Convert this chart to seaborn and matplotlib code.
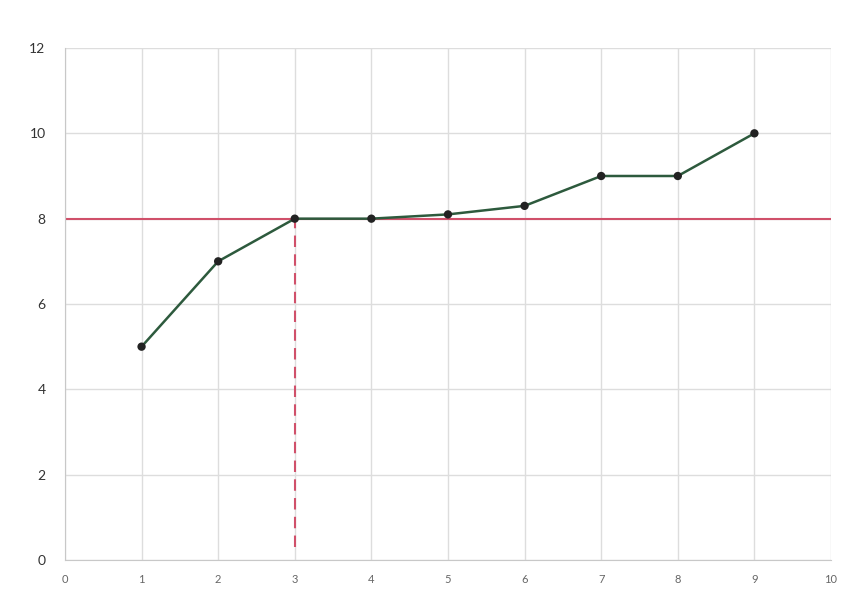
import numpy as np, pandas as pd
import seaborn as sns
import matplotlib.pyplot as plt

x_vals = [1, 2, 3, 4, 5, 6, 7, 8, 9]
y_vals = [5, 7, 8, 8, 8.1, 8.3, 9, 9, 10]
threshold = 8
cut_x = 3
cut_y_start = 0.3

df = pd.DataFrame({'x': x_vals, 'y': y_vals})

sns.set_style('white')
plt.rcParams['font.family'] = ['Lato', 'DejaVu Sans']

fig = plt.figure(figsize=(8.66, 6.06), dpi=100)
ax = fig.add_axes([0.075, 0.0759, 0.8846, 0.8449])

ax.axhline(threshold, color='#d0506a', lw=1.5, zorder=2)
ax.vlines(cut_x, cut_y_start, threshold, color='#d0506a', lw=1.5, linestyles=(0, (5.5, 3.5)), zorder=2)
sns.lineplot(data=df, x='x', y='y', color='#2d5a3d', lw=1.8, ax=ax, zorder=3)
sns.scatterplot(data=df, x='x', y='y', color='#222222', s=36, edgecolor='none', ax=ax, zorder=4)

ax.set_xlim(0, 10)
ax.set_ylim(0, 12)
ax.set_xticks(range(0, 11))
ax.set_yticks(range(0, 13, 2))
ax.grid(True, color='#dddddd', lw=1)
ax.set_axisbelow(True)
for s in ['top', 'right']:
    ax.spines[s].set_visible(False)
for s in ['left', 'bottom']:
    ax.spines[s].set_color('#c8c8c8')
ax.tick_params(axis='y', length=0, pad=14, labelsize=10, labelcolor='#333333')
ax.tick_params(axis='x', length=0, pad=10, labelsize=8, labelcolor='#666666')
ax.set_xlabel('')
ax.set_ylabel('')

fig.savefig('out.png', dpi=100)
